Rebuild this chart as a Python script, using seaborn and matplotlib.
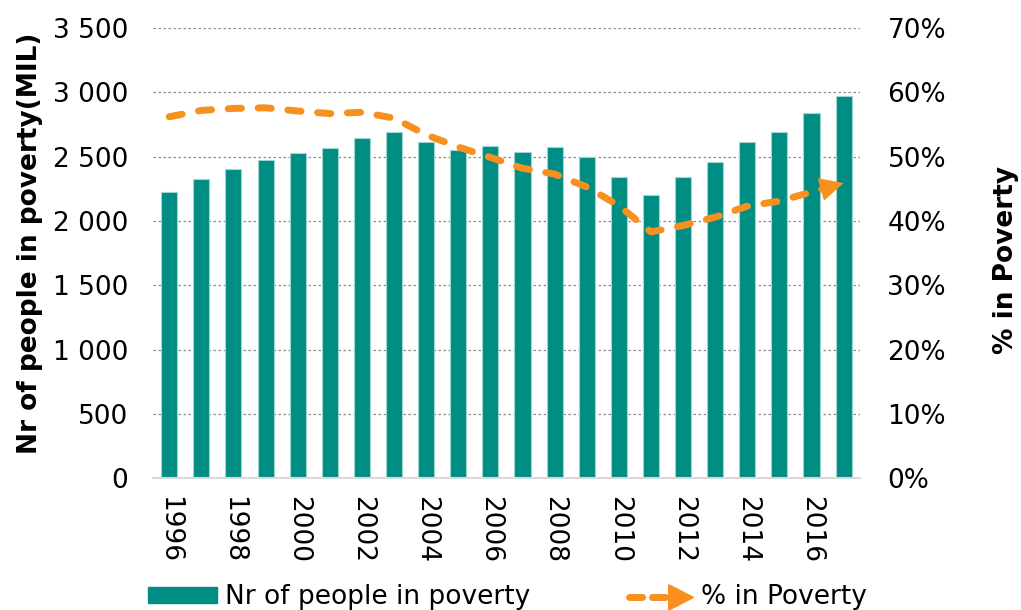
import numpy as np
import matplotlib
matplotlib.use("Agg")
import matplotlib.pyplot as plt
import seaborn as sns
from matplotlib.patches import Patch, Polygon
from matplotlib.lines import Line2D
from matplotlib.legend_handler import HandlerBase

# data
years = [str(y) for y in range(1996, 2018)]
people_mil = [2224, 2325, 2403, 2473, 2528, 2567, 2645, 2691, 2613, 2550, 2582,
              2535, 2574, 2497, 2341, 2201, 2341, 2458, 2613, 2691, 2839, 2971]
pct_poverty = [56.2, 57.2, 57.5, 57.6, 57.1, 56.7, 56.9, 56.0, 53.4, 51.5, 49.9,
               48.2, 47.3, 45.3, 42.4, 38.3, 39.3, 40.6, 42.3, 43.1, 44.5, 45.9]
left_ticks = [0, 500, 1000, 1500, 2000, 2500, 3000, 3500]
right_ticks = [0, 10, 20, 30, 40, 50, 60, 70]

TEAL = "#008E84"
ORANGE = "#F7901E"
FS = 19
LW = 5

sns.set_style("white")
plt.rcParams["font.family"] = ["DejaVu Sans"]
plt.rcParams["text.color"] = "black"
plt.rcParams["axes.labelcolor"] = "black"
plt.rcParams["xtick.color"] = "black"
plt.rcParams["ytick.color"] = "black"

fig = plt.figure(figsize=(10.21, 6.10), dpi=100)
ax = fig.add_axes([0.150, 0.216, 0.692, 0.738])

sns.barplot(x=years, y=people_mil, color=TEAL, width=0.5, ax=ax,
            edgecolor="#9fd6d1", linewidth=0.8, saturation=1)
ax.set_ylim(0, 3500)
ax.set_xlim(-0.5, len(years) - 0.5)
ax.set_yticks(left_ticks)
ax.set_yticklabels([f"{v:,}".replace(",", " ") for v in left_ticks], fontsize=FS)
ax.yaxis.grid(True, linestyle=(0, (2, 2)), color="#8c8c8c", linewidth=0.9)
ax.set_axisbelow(True)
for s in ["top", "right", "left"]:
    ax.spines[s].set_visible(False)
ax.spines["bottom"].set_color("#d9d9d9")
ax.spines["bottom"].set_linewidth(1.5)
ax.tick_params(axis="y", length=0, pad=18)

pos = np.arange(len(years))
ax.set_xticks(pos[::2])
ax.set_xticklabels(years[::2], rotation=-90, fontsize=FS)
ax.set_xticks(np.arange(len(years) + 1) - 0.5, minor=True)
ax.tick_params(axis="x", which="major", length=0, pad=13)
ax.tick_params(axis="x", which="minor", length=7, color="#d9d9d9", width=1.2)
ax.set_xlabel("")
ax.set_ylabel("Nr of people in poverty(MIL)", fontsize=FS, fontweight="bold",
              labelpad=7)
ax.yaxis.label.set_y(0.522)

ax2 = ax.twinx()
sns.lineplot(x=pos, y=pct_poverty, ax=ax2, color=ORANGE, lw=LW)
ax2.lines[0].set_dashes([1.9, 2.4])
ax2.lines[0].set_dash_capstyle("round")
# arrow head at the end of the line, along the last segment
ax2.annotate("", xy=(pos[-1], pct_poverty[-1]), xytext=(pos[-2], pct_poverty[-2]),
             arrowprops=dict(arrowstyle="-|>,head_length=0.85,head_width=0.42",
                             color=ORANGE, lw=0.01, shrinkA=0, shrinkB=0,
                             mutation_scale=20))
ax2.set_ylim(0, 70)
ax2.set_yticks(right_ticks)
ax2.set_yticklabels([f"{v}%" for v in right_ticks], fontsize=FS)
ax2.tick_params(axis="y", length=0, pad=20)
for s in ["top", "right", "left", "bottom"]:
    ax2.spines[s].set_visible(False)
ax2.set_ylabel("% in Poverty", fontsize=FS, fontweight="bold", labelpad=34)
ax2.yaxis.label.set_y(0.485)


class ArrowHandler(HandlerBase):
    def create_artists(self, legend, orig, xd, yd, w, h, fontsize, trans):
        y = yd + h / 2
        ln = Line2D([xd + 3, xd + w * 0.68], [y, y], color=ORANGE, lw=LW,
                    dashes=[1.9, 1.4], dash_capstyle="round", transform=trans)
        head = Polygon([[xd + w * 0.64, y - h * 0.8], [xd + w, y],
                        [xd + w * 0.64, y + h * 0.8]], closed=True,
                       color=ORANGE, transform=trans)
        return [ln, head]


arrow_key = Line2D([], [], color=ORANGE)
handles = [Patch(facecolor=TEAL, edgecolor=TEAL), arrow_key]
labels = ["Nr of people in poverty", "% in Poverty"]
fig.legend(handles, labels, loc="lower left", bbox_to_anchor=(0.145, 0.0),
           ncol=2, frameon=False, fontsize=FS, handlelength=2.6,
           handleheight=0.55, columnspacing=3.6, handletextpad=0.3,
           borderpad=0, borderaxespad=0,
           handler_map={arrow_key: ArrowHandler()})

fig.savefig("out.png", dpi=100)
